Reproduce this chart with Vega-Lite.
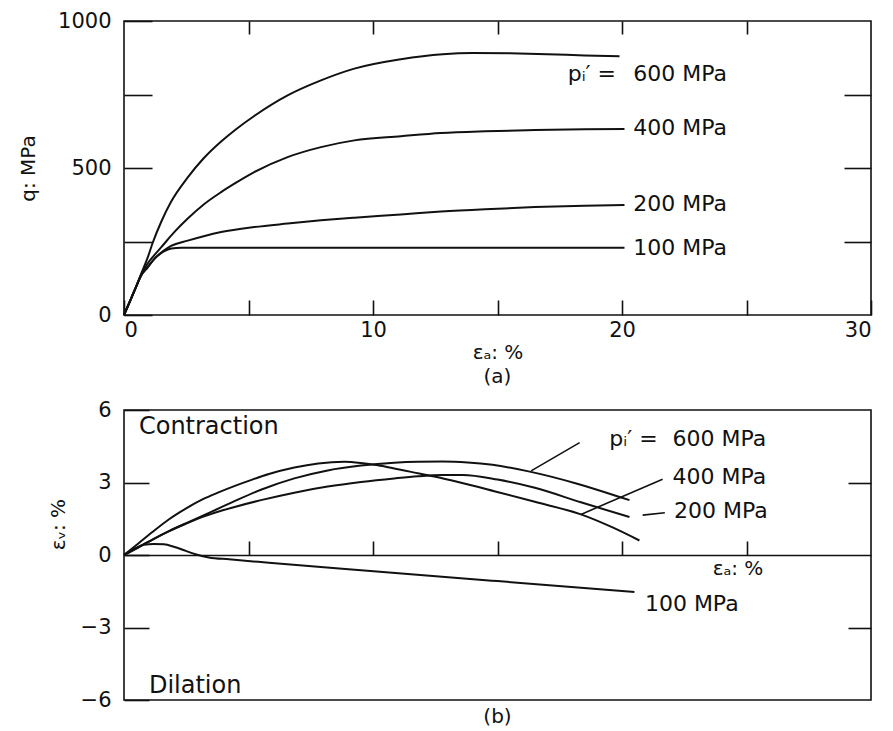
{
  "$schema": "https://vega.github.io/schema/vega-lite/v6.json",
  "background": "white",
  "padding": {"left": 17, "top": 9, "right": 0, "bottom": 0},
  "spacing": 95,
  "bounds": "flush",
  "config": {
    "view": {"stroke": "#111", "strokeWidth": 1.6},
    "font": "DejaVu Sans",
    "axis": {"domain": false, "grid": false, "tickColor": "#111", "tickWidth": 1.6, "labelColor": "#111", "labelFont": "DejaVu Sans", "labelFontSize": 21, "titleFont": "DejaVu Sans", "titleFontSize": 20, "titleFontWeight": "normal", "titleColor": "#111"},
    "title": {"font": "DejaVu Sans", "fontSize": 20, "fontWeight": "normal", "color": "#111"}
  },
  "datasets": {
    "qa": [
      {"p": "600", "ea": 0, "q": 0}, {"p": "600", "ea": 0.28, "q": 55}, {"p": "600", "ea": 0.48, "q": 95}, {"p": "600", "ea": 0.68, "q": 138}, {"p": "600", "ea": 0.95, "q": 195}, {"p": "600", "ea": 1.15, "q": 245}, {"p": "600", "ea": 1.5, "q": 318}, {"p": "600", "ea": 1.89, "q": 385}, {"p": "600", "ea": 2.56, "q": 468}, {"p": "600", "ea": 3.2, "q": 533}, {"p": "600", "ea": 3.9, "q": 590}, {"p": "600", "ea": 4.5, "q": 632}, {"p": "600", "ea": 5.23, "q": 677}, {"p": "600", "ea": 6.57, "q": 747}, {"p": "600", "ea": 7.91, "q": 798}, {"p": "600", "ea": 9.25, "q": 838}, {"p": "600", "ea": 11.12, "q": 870}, {"p": "600", "ea": 12.8, "q": 887}, {"p": "600", "ea": 14, "q": 891}, {"p": "600", "ea": 15.5, "q": 890}, {"p": "600", "ea": 17, "q": 887}, {"p": "600", "ea": 18.5, "q": 883}, {"p": "600", "ea": 19.9, "q": 880},
      {"p": "400", "ea": 0, "q": 0}, {"p": "400", "ea": 0.28, "q": 55}, {"p": "400", "ea": 0.48, "q": 95}, {"p": "400", "ea": 0.68, "q": 135}, {"p": "400", "ea": 0.95, "q": 175}, {"p": "400", "ea": 1.2, "q": 202}, {"p": "400", "ea": 1.49, "q": 230}, {"p": "400", "ea": 2.0, "q": 280}, {"p": "400", "ea": 2.56, "q": 328}, {"p": "400", "ea": 3.2, "q": 376}, {"p": "400", "ea": 3.9, "q": 418}, {"p": "400", "ea": 4.5, "q": 450}, {"p": "400", "ea": 5.23, "q": 486}, {"p": "400", "ea": 6.57, "q": 537}, {"p": "400", "ea": 7.91, "q": 571}, {"p": "400", "ea": 9.25, "q": 594}, {"p": "400", "ea": 11.12, "q": 608}, {"p": "400", "ea": 12.73, "q": 619}, {"p": "400", "ea": 14.5, "q": 625}, {"p": "400", "ea": 16.5, "q": 629}, {"p": "400", "ea": 18.5, "q": 632}, {"p": "400", "ea": 20.1, "q": 633},
      {"p": "200", "ea": 0, "q": 0}, {"p": "200", "ea": 0.28, "q": 55}, {"p": "200", "ea": 0.48, "q": 95}, {"p": "200", "ea": 0.68, "q": 133}, {"p": "200", "ea": 0.95, "q": 162}, {"p": "200", "ea": 1.22, "q": 191}, {"p": "200", "ea": 1.6, "q": 219}, {"p": "200", "ea": 1.89, "q": 235}, {"p": "200", "ea": 2.56, "q": 253}, {"p": "200", "ea": 3.2, "q": 268}, {"p": "200", "ea": 3.9, "q": 282}, {"p": "200", "ea": 5.23, "q": 299}, {"p": "200", "ea": 6.57, "q": 311}, {"p": "200", "ea": 7.91, "q": 322}, {"p": "200", "ea": 9.25, "q": 331}, {"p": "200", "ea": 11.12, "q": 342}, {"p": "200", "ea": 12.73, "q": 352}, {"p": "200", "ea": 14.5, "q": 360}, {"p": "200", "ea": 16.5, "q": 367}, {"p": "200", "ea": 18.5, "q": 372}, {"p": "200", "ea": 20.1, "q": 374},
      {"p": "100", "ea": 0, "q": 0}, {"p": "100", "ea": 0.28, "q": 55}, {"p": "100", "ea": 0.48, "q": 95}, {"p": "100", "ea": 0.68, "q": 133}, {"p": "100", "ea": 0.95, "q": 162}, {"p": "100", "ea": 1.22, "q": 191}, {"p": "100", "ea": 1.6, "q": 216}, {"p": "100", "ea": 1.9, "q": 226}, {"p": "100", "ea": 2.3, "q": 229}, {"p": "100", "ea": 4, "q": 229}, {"p": "100", "ea": 8, "q": 229}, {"p": "100", "ea": 12, "q": 229}, {"p": "100", "ea": 16, "q": 229}, {"p": "100", "ea": 20.1, "q": 229}
    ],
    "evb": [
      {"p": "600", "ea": 0, "ev": 0}, {"p": "600", "ea": 0.6, "ev": 0.33}, {"p": "600", "ea": 1.2, "ev": 0.67}, {"p": "600", "ea": 1.81, "ev": 0.99}, {"p": "600", "ea": 2.5, "ev": 1.32}, {"p": "600", "ea": 3.28, "ev": 1.68}, {"p": "600", "ea": 4.48, "ev": 2.25}, {"p": "600", "ea": 5.5, "ev": 2.7}, {"p": "600", "ea": 6.84, "ev": 3.17}, {"p": "600", "ea": 8.18, "ev": 3.5}, {"p": "600", "ea": 9.52, "ev": 3.7}, {"p": "600", "ea": 10.85, "ev": 3.82}, {"p": "600", "ea": 11.8, "ev": 3.86}, {"p": "600", "ea": 12.8, "ev": 3.87}, {"p": "600", "ea": 13.8, "ev": 3.83}, {"p": "600", "ea": 14.8, "ev": 3.73}, {"p": "600", "ea": 16.2, "ev": 3.47}, {"p": "600", "ea": 18.2, "ev": 2.95}, {"p": "600", "ea": 20, "ev": 2.37}, {"p": "600", "ea": 20.3, "ev": 2.27},
      {"p": "400", "ea": 0, "ev": 0}, {"p": "400", "ea": 0.6, "ev": 0.5}, {"p": "400", "ea": 1.14, "ev": 0.95}, {"p": "400", "ea": 1.81, "ev": 1.48}, {"p": "400", "ea": 2.48, "ev": 1.92}, {"p": "400", "ea": 3.15, "ev": 2.3}, {"p": "400", "ea": 3.82, "ev": 2.6}, {"p": "400", "ea": 4.48, "ev": 2.87}, {"p": "400", "ea": 5.15, "ev": 3.12}, {"p": "400", "ea": 5.82, "ev": 3.35}, {"p": "400", "ea": 6.84, "ev": 3.62}, {"p": "400", "ea": 7.8, "ev": 3.79}, {"p": "400", "ea": 8.85, "ev": 3.86}, {"p": "400", "ea": 9.52, "ev": 3.81}, {"p": "400", "ea": 10.2, "ev": 3.71}, {"p": "400", "ea": 10.85, "ev": 3.58}, {"p": "400", "ea": 11.53, "ev": 3.44}, {"p": "400", "ea": 12.46, "ev": 3.25}, {"p": "400", "ea": 13.5, "ev": 3.0}, {"p": "400", "ea": 14.87, "ev": 2.64}, {"p": "400", "ea": 16.5, "ev": 2.2}, {"p": "400", "ea": 18.35, "ev": 1.68}, {"p": "400", "ea": 19.6, "ev": 1.15}, {"p": "400", "ea": 20.7, "ev": 0.6},
      {"p": "200", "ea": 0, "ev": 0}, {"p": "200", "ea": 0.6, "ev": 0.33}, {"p": "200", "ea": 1.2, "ev": 0.67}, {"p": "200", "ea": 1.81, "ev": 0.99}, {"p": "200", "ea": 2.5, "ev": 1.3}, {"p": "200", "ea": 3.28, "ev": 1.62}, {"p": "200", "ea": 4.0, "ev": 1.86}, {"p": "200", "ea": 4.48, "ev": 2.0}, {"p": "200", "ea": 5.5, "ev": 2.27}, {"p": "200", "ea": 6.84, "ev": 2.58}, {"p": "200", "ea": 8.18, "ev": 2.83}, {"p": "200", "ea": 9.52, "ev": 3.02}, {"p": "200", "ea": 10.85, "ev": 3.17}, {"p": "200", "ea": 11.8, "ev": 3.26}, {"p": "200", "ea": 12.8, "ev": 3.31}, {"p": "200", "ea": 13.6, "ev": 3.31}, {"p": "200", "ea": 15, "ev": 3.12}, {"p": "200", "ea": 16.5, "ev": 2.78}, {"p": "200", "ea": 18.35, "ev": 2.18}, {"p": "200", "ea": 20.3, "ev": 1.57},
      {"p": "100", "ea": 0, "ev": 0}, {"p": "100", "ea": 0.4, "ev": 0.25}, {"p": "100", "ea": 0.8, "ev": 0.42}, {"p": "100", "ea": 1.2, "ev": 0.46}, {"p": "100", "ea": 1.6, "ev": 0.44}, {"p": "100", "ea": 2.0, "ev": 0.34}, {"p": "100", "ea": 2.48, "ev": 0.17}, {"p": "100", "ea": 2.87, "ev": 0.03}, {"p": "100", "ea": 3.41, "ev": -0.1}, {"p": "100", "ea": 4.22, "ev": -0.18}, {"p": "100", "ea": 5.82, "ev": -0.32}, {"p": "100", "ea": 9.9, "ev": -0.66}, {"p": "100", "ea": 15, "ev": -1.08}, {"p": "100", "ea": 20.5, "ev": -1.53}
    ],
    "labA": [
      {"label": "600 MPa", "x": 20.45, "y": 821},
      {"label": "400 MPa", "x": 20.45, "y": 636},
      {"label": "200 MPa", "x": 20.45, "y": 376},
      {"label": "100 MPa", "x": 20.45, "y": 228}
    ],
    "pA": [{"label": "pᵢ′ =", "x": 19.76, "y": 821}],
    "labB": [
      {"label": "600 MPa", "x": 22.03, "y": 4.79},
      {"label": "400 MPa", "x": 22.03, "y": 3.23},
      {"label": "200 MPa", "x": 22.09, "y": 1.82},
      {"label": "100 MPa", "x": 20.92, "y": -2.01}
    ],
    "pB": [{"label": "pᵢ′ =", "x": 21.43, "y": 4.79}],
    "eaB": [{"label": "εₐ: %", "x": 23.64, "y": -0.59}],
    "zones": [
      {"label": "Contraction", "x": 0.6, "y": 5.3},
      {"label": "Dilation", "x": 1.0, "y": -5.42}
    ],
    "leaders": [
      {"p": "600", "x": 18.3, "y": 4.65, "x2": 16.35, "y2": 3.48},
      {"p": "400", "x": 21.63, "y": 3.13, "x2": 18.35, "y2": 1.68},
      {"p": "200", "x": 20.83, "y": 1.65, "x2": 21.72, "y2": 1.75}
    ]
  },
  "vconcat": [
    {
      "width": 747,
      "height": 294,
      "title": {"text": "(a)", "orient": "bottom", "offset": 5},
      "layer": [
        {
          "data": {"name": "qa"},
          "mark": {"type": "line", "color": "#111", "strokeWidth": 2, "interpolate": "monotone"},
          "encoding": {
            "x": {"field": "ea", "type": "quantitative", "scale": {"domain": [0, 30], "nice": false, "zero": false},
              "axis": {"orient": "bottom", "values": [0, 5, 10, 15, 20, 25, 30], "labelExpr": "datum.value % 10 === 0 ? datum.label : ''", "tickSize": -15, "labelPadding": 19, "title": "εₐ: %", "titlePadding": 2}},
            "y": {"field": "q", "type": "quantitative", "scale": {"domain": [0, 1000], "nice": false},
              "axis": {"orient": "left", "values": [0, 250, 500, 750, 1000], "format": "d", "labelExpr": "datum.value % 500 === 0 ? datum.label : ''", "tickSize": -28, "labelPadding": 41, "title": "q: MPa", "titleX": -96, "titleBaseline": "middle"}},
            "detail": {"field": "p"}
          }
        },
        {
          "data": {"name": "labA"},
          "mark": {"type": "text", "align": "left", "baseline": "middle", "fontSize": 22, "color": "#111"},
          "encoding": {
            "x": {"field": "x", "type": "quantitative", "scale": {"domain": [0, 30], "nice": false, "zero": false},
              "axis": {"orient": "top", "values": [5, 10, 15, 20, 25], "labels": false, "tickSize": -13, "title": null}},
            "y": {"field": "y", "type": "quantitative", "scale": {"domain": [0, 1000], "nice": false},
              "axis": {"orient": "right", "values": [250, 500, 750], "labels": false, "tickSize": -27, "title": null}},
            "text": {"field": "label"}
          }
        },
        {
          "data": {"name": "pA"},
          "mark": {"type": "text", "align": "right", "baseline": "middle", "fontSize": 22, "color": "#111"},
          "encoding": {
            "x": {"field": "x", "type": "quantitative", "axis": null},
            "y": {"field": "y", "type": "quantitative", "axis": null},
            "text": {"field": "label"}
          }
        }
      ],
      "resolve": {"axis": {"x": "independent", "y": "independent"}}
    },
    {
      "width": 747,
      "height": 290,
      "title": {"text": "(b)", "orient": "bottom", "offset": -3},
      "layer": [
        {
          "data": {"name": "evb"},
          "mark": {"type": "line", "color": "#111", "strokeWidth": 2, "interpolate": "monotone"},
          "encoding": {
            "x": {"field": "ea", "type": "quantitative", "scale": {"domain": [0, 30], "nice": false, "zero": false},
              "axis": {"orient": "bottom", "offset": -145, "values": [5, 10, 15, 20, 25], "labels": false, "tickSize": -14, "domain": true, "domainColor": "#111", "domainWidth": 1.6, "title": null}},
            "y": {"field": "ev", "type": "quantitative", "scale": {"domain": [-6, 6], "nice": false},
              "axis": {"orient": "left", "values": [-6, -3, 0, 3, 6], "tickSize": -25, "labelPadding": 38, "title": "εᵥ: %", "titleX": -66, "titleY": 114, "titleBaseline": "middle"}},
            "detail": {"field": "p"}
          }
        },
        {
          "data": {"name": "labB"},
          "mark": {"type": "text", "align": "left", "baseline": "middle", "fontSize": 22, "color": "#111"},
          "encoding": {
            "x": {"field": "x", "type": "quantitative", "scale": {"domain": [0, 30], "nice": false, "zero": false}, "axis": null},
            "y": {"field": "y", "type": "quantitative", "scale": {"domain": [-6, 6], "nice": false},
              "axis": {"orient": "right", "values": [-3, 3], "labels": false, "tickSize": -23, "title": null}},
            "text": {"field": "label"}
          }
        },
        {
          "data": {"name": "pB"},
          "mark": {"type": "text", "align": "right", "baseline": "middle", "fontSize": 22, "color": "#111"},
          "encoding": {
            "x": {"field": "x", "type": "quantitative", "axis": null},
            "y": {"field": "y", "type": "quantitative", "axis": null},
            "text": {"field": "label"}
          }
        },
        {
          "data": {"name": "eaB"},
          "mark": {"type": "text", "align": "left", "baseline": "middle", "fontSize": 20, "color": "#111"},
          "encoding": {
            "x": {"field": "x", "type": "quantitative", "axis": null},
            "y": {"field": "y", "type": "quantitative", "axis": null},
            "text": {"field": "label"}
          }
        },
        {
          "data": {"name": "zones"},
          "mark": {"type": "text", "align": "left", "baseline": "middle", "fontSize": 24, "color": "#111"},
          "encoding": {
            "x": {"field": "x", "type": "quantitative", "axis": null},
            "y": {"field": "y", "type": "quantitative", "axis": null},
            "text": {"field": "label"}
          }
        },
        {
          "data": {"name": "leaders"},
          "mark": {"type": "rule", "color": "#111", "strokeWidth": 1.6},
          "encoding": {
            "x": {"field": "x", "type": "quantitative", "axis": null},
            "y": {"field": "y", "type": "quantitative", "axis": null},
            "x2": {"field": "x2"},
            "y2": {"field": "y2"}
          }
        }
      ],
      "resolve": {"axis": {"x": "independent", "y": "independent"}}
    }
  ]
}
